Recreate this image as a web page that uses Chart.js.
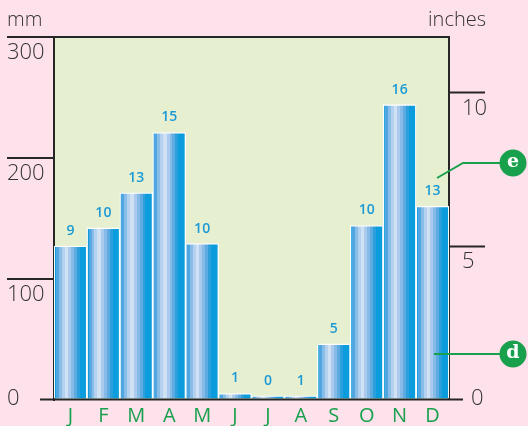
<!DOCTYPE html>
<html>
<head>
<meta charset="utf-8">
<script src="https://cdn.jsdelivr.net/npm/chart.js@4.4.1/dist/chart.umd.min.js"></script>
<style>
  html, body { margin: 0; padding: 0; background: #fde1eb; }
  #wrap { width: 528px; height: 426px; position: relative; }
</style>
</head>
<body>
<div id="wrap"><canvas id="rainChart"></canvas></div>
<script>
const months = ['J', 'F', 'M', 'A', 'M', 'J', 'J', 'A', 'S', 'O', 'N', 'D'];
const rainfallMm = [127, 142, 171, 221, 129, 5, 3, 3, 46, 144, 244, 160];
const rainDays = [9, 10, 13, 15, 10, 1, 0, 1, 5, 10, 16, 13];
const mmTicks = [0, 100, 200, 300];
const inchTicks = [0, 5, 10];

const FONT = '"Open Sans", "Noto Sans", sans-serif';
const DARK = '#262626';
const GREEN = '#18a04c';
const BLUE_TEXT = '#1b9ad6';

// vertical stripes across each bar, left to right
const stripes = [
  [0, '#0e9bdb'], [0.05, '#4fa6e0'], [0.14, '#88bde8'], [0.23, '#b4d1ef'],
  [0.32, '#d0e1f4'], [0.42, '#aacbed'], [0.51, '#86bbe8'], [0.6, '#5eabe2'],
  [0.69, '#2ca0dd'], [0.78, '#0a9cdc'], [1, '#0a9bdb']
];

function barFill(c) {
  const chart = c.chart;
  const xs = chart.scales.x;
  if (!chart.chartArea || !xs) return '#0b9bdb';
  const w = xs.width / months.length;
  const x0 = xs.getPixelForValue(c.dataIndex) - w / 2;
  const g = chart.ctx.createLinearGradient(x0, 0, x0 + w, 0);
  for (let i = 0; i < stripes.length - 1; i++) {
    g.addColorStop(stripes[i][0], stripes[i][1]);
    g.addColorStop(Math.max(stripes[i][0], stripes[i + 1][0] - 0.001), stripes[i][1]);
  }
  g.addColorStop(1, stripes[stripes.length - 1][1]);
  return g;
}

const plotBg = {
  id: 'plotBg',
  beforeDraw(chart) {
    const { ctx, chartArea: a } = chart;
    ctx.save();
    ctx.fillStyle = '#e6efcf';
    ctx.fillRect(a.left, a.top, a.right - a.left, a.bottom - a.top);
    ctx.restore();
  }
};

const extras = {
  id: 'extras',
  afterDatasetsDraw(chart) {
    const ctx = chart.ctx;
    const meta = chart.getDatasetMeta(0);
    ctx.save();
    ctx.fillStyle = BLUE_TEXT;
    ctx.font = '600 14px ' + FONT;
    ctx.textAlign = 'center';
    ctx.textBaseline = 'middle';
    meta.data.forEach((bar, i) => {
      ctx.fillText(String(rainDays[i]), bar.x, bar.y - 15);
    });
    ctx.restore();
  },
  afterDraw(chart) {
    const { ctx, chartArea: a } = chart;
    const ys = chart.scales.y;
    const y0 = ys.getPixelForValue(0);
    ctx.save();
    // base line with the two zero labels
    ctx.strokeStyle = DARK;
    ctx.lineWidth = 2;
    ctx.beginPath();
    ctx.moveTo(a.left - 14, y0);
    ctx.lineTo(a.right + 14, y0);
    ctx.stroke();
    ctx.fillStyle = '#333';
    ctx.font = '300 22px ' + FONT;
    ctx.textBaseline = 'middle';
    ctx.textAlign = 'left';
    ctx.fillText('0', 7, y0 - 1);
    ctx.fillText('0', a.right + 22, y0 - 1);
    // unit titles
    ctx.font = '300 20px ' + FONT;
    ctx.textBaseline = 'alphabetic';
    ctx.fillText('mm', 7, 26);
    ctx.textAlign = 'right';
    ctx.fillText('inches', 486, 26);
    // callouts
    ctx.strokeStyle = GREEN;
    ctx.lineWidth = 2;
    ctx.beginPath();
    ctx.moveTo(a.right - 12, 178);
    ctx.lineTo(a.right + 14, 163);
    ctx.lineTo(a.right + 52, 163);
    ctx.moveTo(a.right - 15, 354);
    ctx.lineTo(a.right + 52, 354);
    ctx.stroke();
    ctx.fillStyle = GREEN;
    [163, 354].forEach(cy => {
      ctx.beginPath();
      ctx.arc(a.right + 64, cy, 13.5, 0, Math.PI * 2);
      ctx.fill();
    });
    ctx.fillStyle = '#fff';
    ctx.font = 'bold 19px "DejaVu Serif", serif';
    ctx.textAlign = 'center';
    ctx.textBaseline = 'middle';
    ctx.fillText('e', a.right + 64, 162);
    ctx.fillText('d', a.right + 64, 353);
    ctx.restore();
  }
};

new Chart(document.getElementById('rainChart'), {
  type: 'bar',
  data: {
    labels: months,
    datasets: [{
      label: 'Rainfall (mm)',
      data: rainfallMm,
      backgroundColor: barFill,
      borderColor: '#ffffff',
      borderWidth: 1.3,
      borderSkipped: 'start',
      categoryPercentage: 1,
      barPercentage: 1,
      yAxisID: 'y'
    }]
  },
  options: {
    responsive: true,
    maintainAspectRatio: false,
    animation: false,
    devicePixelRatio: 1,
    layout: { padding: { left: 7, top: 37, right: 0, bottom: 0 } },
    plugins: { legend: { display: false }, tooltip: { enabled: false } },
    scales: {
      x: {
        grid: { display: false, drawTicks: false },
        border: { display: false },
        ticks: { color: GREEN, font: { family: FONT, size: 20, weight: 400 }, padding: 5, maxRotation: 0 },
        afterFit: s => { s.height = 26.5; }
      },
      y: {
        position: 'left',
        min: 0,
        max: 300,
        z: 1,
        afterBuildTicks: s => { s.ticks = mmTicks.map(v => ({ value: v })); },
        afterFit: s => { s.width = 47; },
        grid: {
          drawOnChartArea: true,
          color: c => (c.tick && c.tick.value === 300 ? DARK : 'transparent'),
          lineWidth: 2,
          tickLength: 47,
          tickWidth: 2,
          tickColor: c => (c.tick && c.tick.value === 0 ? 'transparent' : DARK)
        },
        border: { display: true, color: DARK, width: 2 },
        ticks: {
          crossAlign: 'far',
          labelOffset: 16,
          color: '#333',
          font: { family: FONT, size: 22, weight: 300 },
          callback: v => (v === 0 ? '' : v)
        }
      },
      y1: {
        position: 'right',
        min: 0,
        max: 300 / 25.4,
        z: 1,
        afterBuildTicks: s => { s.ticks = inchTicks.map(v => ({ value: v })); },
        afterFit: s => { s.width = 79; },
        grid: {
          drawOnChartArea: false,
          tickLength: 36,
          tickWidth: 2,
          tickColor: c => (c.tick && c.tick.value === 0 ? 'transparent' : DARK)
        },
        border: { display: true, color: DARK, width: 2 },
        ticks: {
          crossAlign: 'near',
          padding: -23,
          labelOffset: 16,
          color: '#333',
          font: { family: FONT, size: 22, weight: 300 },
          callback: v => (v === 0 ? '' : v)
        }
      }
    }
  },
  plugins: [plotBg, extras]
});
</script>
</body>
</html>
